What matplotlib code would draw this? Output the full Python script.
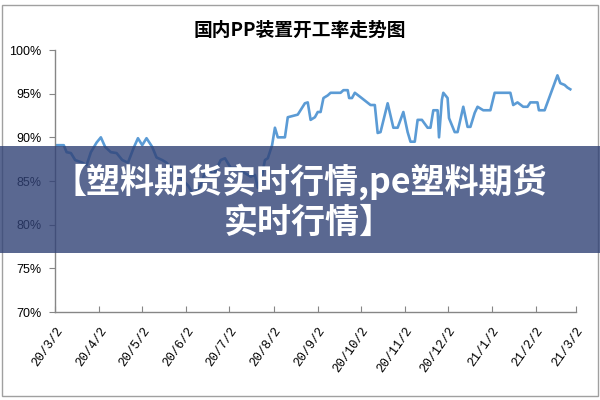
import numpy as np
import pandas as pd
import matplotlib
matplotlib.use('Agg')
import matplotlib.pyplot as plt
import matplotlib.dates as mdates
from matplotlib.patches import Rectangle

plt.rcParams['font.family'] = ['Noto Sans CJK SC', 'DejaVu Sans']

# 国内PP装置开工率 (%)
dates = ['2020-03-02', '2020-03-08', '2020-03-10', '2020-03-13', '2020-03-16', '2020-03-21',
         '2020-03-24', '2020-03-27', '2020-03-31', '2020-04-03', '2020-04-06', '2020-04-10',
         '2020-04-14', '2020-04-18', '2020-04-22', '2020-04-26', '2020-04-29', '2020-05-02',
         '2020-05-05', '2020-05-09', '2020-05-12', '2020-05-16', '2020-05-19', '2020-05-23',
         '2020-05-29', '2020-06-03', '2020-06-07', '2020-06-12', '2020-06-16', '2020-06-21',
         '2020-06-26', '2020-06-29', '2020-07-03', '2020-07-08', '2020-07-12', '2020-07-17',
         '2020-07-20', '2020-07-22', '2020-07-25', '2020-07-27', '2020-07-29', '2020-08-01',
         '2020-08-03', '2020-08-05', '2020-08-10', '2020-08-12', '2020-08-19', '2020-08-24',
         '2020-08-26', '2020-08-28', '2020-08-31', '2020-09-02', '2020-09-04', '2020-09-06',
         '2020-09-09', '2020-09-11', '2020-09-18', '2020-09-20', '2020-09-23', '2020-09-24',
         '2020-09-26', '2020-09-28', '2020-10-02', '2020-10-09', '2020-10-12', '2020-10-14',
         '2020-10-16', '2020-10-21', '2020-10-25', '2020-10-28', '2020-11-01', '2020-11-04',
         '2020-11-06', '2020-11-09', '2020-11-11', '2020-11-14', '2020-11-18', '2020-11-20',
         '2020-11-22', '2020-11-25', '2020-11-26', '2020-11-28', '2020-11-29', '2020-12-02',
         '2020-12-03', '2020-12-07', '2020-12-09', '2020-12-13', '2020-12-16', '2020-12-18',
         '2020-12-21', '2020-12-23', '2020-12-27', '2021-01-01', '2021-01-04', '2021-01-15',
         '2021-01-17', '2021-01-20', '2021-01-24', '2021-01-27', '2021-01-29', '2021-02-03',
         '2021-02-04', '2021-02-08', '2021-02-17', '2021-02-19', '2021-02-22', '2021-02-24',
         '2021-02-26']
rates = [89.1, 89.1, 88.3, 88.2, 87.4, 87.1,
         86.8, 88.3, 89.4, 90.0, 88.9, 88.3,
         88.2, 87.4, 87.1, 88.8, 89.9, 89.1,
         89.9, 88.9, 87.7, 87.4, 87.1, 86.3,
         85.3, 84.5, 83.4, 84.5, 86.5, 85.7,
         87.4, 87.6, 86.5, 86.5, 86.0, 85.5,
         85.7, 84.2, 85.7, 87.4, 87.6, 89.1,
         91.1, 90.0, 90.0, 92.3, 92.6, 93.9,
         94.0, 92.0, 92.3, 92.9, 92.9, 94.5,
         94.8, 95.1, 95.1, 95.4, 95.4, 94.5,
         94.5, 95.1, 94.6, 93.7, 93.7, 90.5,
         90.6, 93.9, 91.1, 91.1, 92.9, 90.6,
         89.5, 89.5, 92.0, 92.0, 91.1, 91.1,
         93.1, 93.1, 90.0, 94.3, 95.1, 94.5,
         92.2, 90.6, 90.6, 93.5, 91.2, 91.2,
         92.8, 93.5, 93.1, 93.1, 95.1, 95.1,
         93.7, 94.0, 93.5, 93.5, 94.0, 94.0,
         93.1, 93.1, 97.1, 96.2, 96.0, 95.7,
         95.5]

tick_dates = ['2020-03-02', '2020-04-02', '2020-05-02', '2020-06-02', '2020-07-02',
              '2020-08-02', '2020-09-02', '2020-10-02', '2020-11-02', '2020-12-02',
              '2021-01-02', '2021-02-02', '2021-03-02']
y_ticks = [70, 75, 80, 85, 90, 95, 100]

x = pd.to_datetime(dates)
xt = pd.to_datetime(tick_dates)

fig = plt.figure(figsize=(6, 4), dpi=100)
ax = fig.add_axes([0.092, 0.22, 0.868, 0.655])

ax.plot(x, rates, color='#5b9bd5', linewidth=1.9)

ax.set_xlim(xt[0], xt[-1])
ax.set_ylim(70, 100)
ax.set_yticks(y_ticks)
ax.set_yticklabels([f'{v}%' for v in y_ticks], fontsize=9, family=['Liberation Sans'])
ax.set_xticks(xt)
ax.set_xticklabels([f'{d.year % 100}/{d.month}/{d.day}' for d in xt], fontsize=9,
                   family=['Liberation Mono'], rotation=55, ha='right', va='top',
                   rotation_mode='anchor')
ax.tick_params(axis='x', direction='in', length=4, color='#868686', pad=9)
ax.tick_params(axis='y', direction='out', length=4, color='#868686', pad=6)

for s in ['top', 'right']:
    ax.spines[s].set_visible(False)
for s in ['left', 'bottom']:
    ax.spines[s].set_color('#868686')
    ax.spines[s].set_linewidth(1)

fig.text(0.5, 0.925, '国内PP装置开工率走势图', ha='center', va='center', fontsize=13.5,
         fontweight='bold')

# outer chart frame
fig.patches.append(Rectangle((0.004, 0.01), 0.992, 0.978, transform=fig.transFigure,
                             fill=False, edgecolor='#a0a0a0', linewidth=1))

# overlay banner
fig.patches.append(Rectangle((0, 0.367), 1, 0.268, transform=fig.transFigure,
                             facecolor='#314276', alpha=0.8, edgecolor='none', zorder=5))
fig.text(0.5, 0.543, '【塑料期货实时行情,pe塑料期货', ha='center', va='center',
         fontsize=24.5, fontweight='heavy', color='white', zorder=6)
fig.text(0.515, 0.445, '实时行情】', ha='center', va='center',
         fontsize=24.5, fontweight='heavy', color='white', zorder=6)

fig.savefig('out.png', dpi=100)
